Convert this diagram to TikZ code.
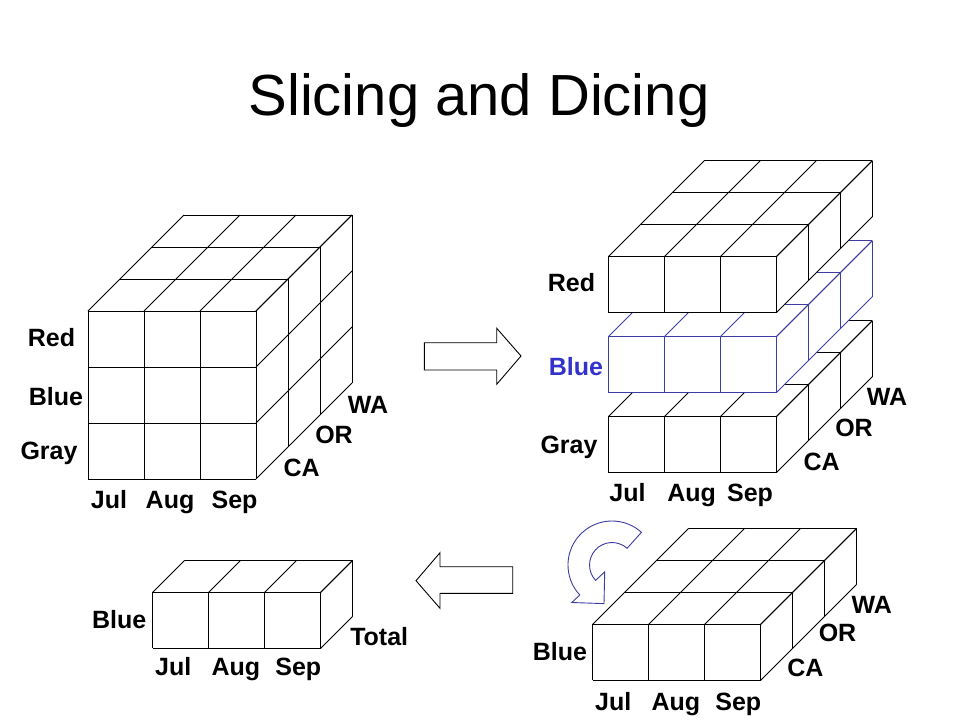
\documentclass[tikz,border=0pt]{standalone}
\usepackage{fontspec}
\setmainfont{Liberation Sans}
\definecolor{slabblue}{RGB}{60,60,165}
\definecolor{textblue}{RGB}{51,51,204}
\tikzset{
  gridline/.style={line width=0.9pt, line join=round},
  lbl/.style={font=\fontsize{25}{30}\selectfont\bfseries, anchor=base, inner sep=0pt},
  bigarrow/.style={draw=black, line width=0.9pt, fill=white, line join=miter},
  rotarrow/.style={draw=slabblue, line width=0.9pt, line join=miter},
  titlefont/.style={font=\fontsize{58}{66}\selectfont, anchor=base, inner sep=0pt}
}
% #1 x0, #2 y0 (front top-left), #3 cols, #4 rows, #5 depth layers, #6 colour
\newcommand{\cubeblock}[6]{%
  \pgfmathsetmacro\cbW{56*#3}%
  \pgfmathsetmacro\cbH{56*#4}%
  \pgfmathsetmacro\cbD{32*#5}%
  \fill[white] ({#1},{#2+\cbH}) -- ({#1},{#2}) -- ({#1+\cbD},{#2-\cbD}) --
    ({#1+\cbW+\cbD},{#2-\cbD}) -- ({#1+\cbW+\cbD},{#2+\cbH-\cbD}) --
    ({#1+\cbW},{#2+\cbH}) -- cycle;
  \foreach \k in {0,...,#5}{%
    \draw[gridline,#6] ({#1+32*\k},{#2-32*\k}) -- ({#1+\cbW+32*\k},{#2-32*\k});
    \draw[gridline,#6] ({#1+\cbW+32*\k},{#2-32*\k}) -- ({#1+\cbW+32*\k},{#2+\cbH-32*\k});
  }
  \foreach \i in {0,...,#3}{%
    \draw[gridline,#6] ({#1+56*\i},{#2}) -- ({#1+56*\i+\cbD},{#2-\cbD});
    \draw[gridline,#6] ({#1+56*\i},{#2}) -- ({#1+56*\i},{#2+\cbH});
  }
  \foreach \j in {0,...,#4}{%
    \draw[gridline,#6] ({#1},{#2+56*\j}) -- ({#1+\cbW},{#2+56*\j});
    \draw[gridline,#6] ({#1+\cbW},{#2+56*\j}) -- ({#1+\cbW+\cbD},{#2+56*\j-\cbD});
  }
}
\begin{document}
\begin{tikzpicture}[x=1pt,y=-1pt]
\useasboundingbox[fill=white] (0,0) rectangle (960,720);

% title
\node[titlefont] (title) at (479,115) {Slicing and Dicing};

% ---------- full cube (top left) ----------
\cubeblock{88}{311}{3}{3}{3}{black}
\node[lbl] (l-red)  at (51.5,346.5) {Red};
\node[lbl] (l-blue) at (56,405) {Blue};
\node[lbl] (l-gray) at (49,459.5) {Gray};
\node[lbl] (l-jul)  at (109,508) {Jul};
\node[lbl] (l-aug)  at (170,508) {Aug};
\node[lbl] (l-sep)  at (234.5,508) {Sep};
\node[lbl] (l-ca)   at (301.7,476.7) {CA};
\node[lbl] (l-or)   at (334,443.3) {OR};
\node[lbl] (l-wa)   at (368,413.3) {WA};

% ---------- sliced cube (top right) ----------
\cubeblock{608.3}{416.7}{3}{1}{3}{black}
\cubeblock{608.3}{336.7}{3}{1}{3}{slabblue}
\cubeblock{608.3}{256.7}{3}{1}{3}{black}
\node[lbl] (r-red)  at (571.5,291.7) {Red};
\node[lbl, text=textblue] (r-blue) at (576,375) {Blue};
\node[lbl] (r-gray) at (569,453.3) {Gray};
\node[lbl] (r-jul)  at (627.5,501.5) {Jul};
\node[lbl] (r-aug)  at (691.7,501.5) {Aug};
\node[lbl] (r-sep)  at (750,501.5) {Sep};
\node[lbl] (r-ca)   at (821.7,470) {CA};
\node[lbl] (r-or)   at (854,436.7) {OR};
\node[lbl] (r-wa)   at (887,405.5) {WA};

% ---------- blue slice (bottom right) ----------
\cubeblock{592.7}{624.3}{3}{1}{3}{black}
\node[lbl] (s-blue) at (560,660) {Blue};
\node[lbl] (s-jul)  at (613.3,710) {Jul};
\node[lbl] (s-aug)  at (675.8,710) {Aug};
\node[lbl] (s-sep)  at (738.3,710) {Sep};
\node[lbl] (s-ca)   at (805.3,676.7) {CA};
\node[lbl] (s-or)   at (837.5,641.7) {OR};
\node[lbl] (s-wa)   at (871.7,613.3) {WA};

% ---------- total (bottom left) ----------
\cubeblock{152.7}{592.3}{3}{1}{1}{black}
\node[lbl] (t-blue)  at (119.2,628.3) {Blue};
\node[lbl] (t-total) at (379.2,645) {Total};
\node[lbl] (t-jul)   at (173.3,675) {Jul};
\node[lbl] (t-aug)   at (235.8,675) {Aug};
\node[lbl] (t-sep)   at (298.3,675) {Sep};

% ---------- block arrows ----------
\draw[bigarrow] (424.3,342.7) -- (496.7,342.7) -- (496.7,328.3) -- (521,356)
  -- (496.7,384.3) -- (496.7,370) -- (424.3,370) -- cycle;
\draw[bigarrow] (512.7,566.7) -- (440,566.7) -- (440,552.7) -- (416,580.7)
  -- (440,608.3) -- (440,593.3) -- (512.7,593.3) -- cycle;

% ---------- rotation arrow ----------
\draw[rotarrow] (579.8,595.0) arc[start angle=137, end angle=312, radius=44]
  -- (627.1,548.3) arc[start angle=312, end angle=137, radius=22.5]
  -- (604.7,571.8) -- (604,603.6) -- (571.8,602.5) -- cycle;
\end{tikzpicture}
\end{document}
